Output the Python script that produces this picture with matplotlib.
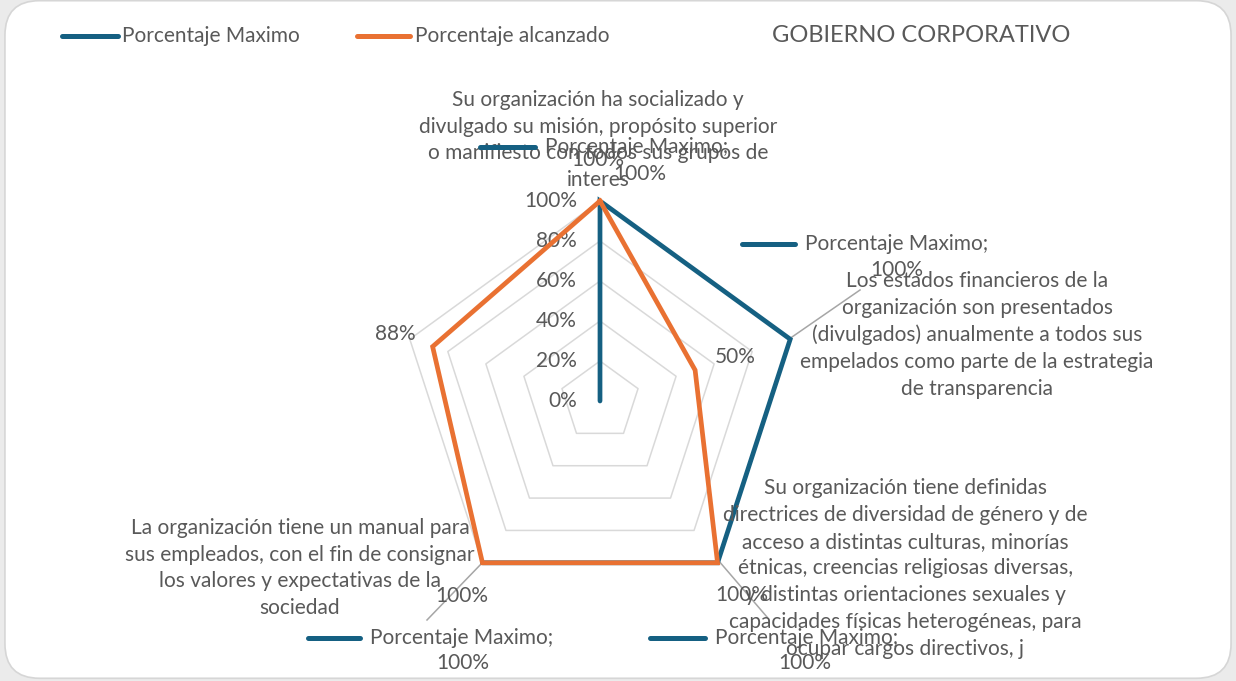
import matplotlib.pyplot as plt
import numpy as np
from matplotlib.patches import FancyBboxPatch

plt.rcParams['font.family'] = ['Lato', 'DejaVu Sans']

categories = [
    "Su organización ha socializado y\ndivulgado su misión, propósito superior\no manifiesto con todos sus grupos de\ninteres",
    "Los estados financieros de la\norganización son presentados\n(divulgados) anualmente a todos sus\nempelados como parte de la estrategia\nde transparencia",
    "Su organización tiene definidas\ndirectrices de diversidad de género y de\nacceso a distintas culturas, minorías\nétnicas, creencias religiosas diversas,\ny distintas orientaciones sexuales y\ncapacidades físicas heterogéneas, para\nocupar cargos directivos, j",
    "La organización tiene un manual para\nsus empleados, con el fin de consignar\nlos valores y expectativas de la\nsociedad",
    "",
]
maximo = [100, 100, 100, 100, 0]
alcanzado = [100, 50, 100, 100, 88]
rings = [20, 40, 60, 80, 100]

BLUE = '#156082'
ORANGE = '#E97132'
TXT = '#595959'
GRID = '#d9d9d9'
FS = 15

n = len(maximo)
theta = np.arange(n) * 2 * np.pi / n


def xy(vals, idx):
    v = np.array(vals, dtype=float)[idx]
    t = theta[idx]
    return v * np.sin(t), v * np.cos(t)


fig = plt.figure(figsize=(12.36, 6.81), dpi=100)
fig.patch.set_facecolor('#ebebeb')
bg = FancyBboxPatch((0.004, 0.004), 0.992, 0.995, boxstyle='round,pad=0,rounding_size=0.028',
                    transform=fig.transFigure, facecolor='white', edgecolor='#d6d6d6',
                    linewidth=1.2, mutation_aspect=1236 / 681, zorder=-5)
fig.patches.append(bg)

ax = fig.add_axes([0, 0, 1, 1])
ax.set_xlim(-300, 318)
ax.set_ylim(-140, 200.5)
ax.axis('off')

closed = list(range(n)) + [0]
for r in rings:
    gx, gy = xy([r] * n, closed)
    ax.plot(gx, gy, color=GRID, lw=1.1, zorder=1)

for r in [0] + rings:
    ax.text(-11.5, r, f"{r}%", ha='right', va='center', color=TXT, fontsize=FS)

bx, by = xy(maximo, [4, 0, 1, 2, 3])
ax.plot(bx, by, color=BLUE, lw=3.4, solid_capstyle='round', solid_joinstyle='miter', zorder=3)
ox, oy = xy(alcanzado, closed)
ax.plot(ox, oy, color=ORANGE, lw=3.4, solid_joinstyle='miter', zorder=4)

# category labels
cat_pos = [(-1, 130.5), (188.5, 33), (152.75, -83.75), (-150, -83.5)]
for lab, (cx, cy) in zip(categories, cat_pos):
    ax.text(cx, cy, lab, ha='center', va='center', color=TXT, fontsize=FS,
            linespacing=1.42, zorder=5)

# leader lines
for (x0, y0), (x1, y1) in [((96, 32), (130, 55.5)), ((-58.5, -80.5), (-86.5, -109.5)),
                           ((59, -79.5), (83.5, -108))]:
    ax.plot([x0, x1], [y0, y1], color='#a6a6a6', lw=1.1, zorder=2)

# data labels for Porcentaje Maximo
blue_labels = [((-60, -32.5, 127), (-1, 120.5)), ((71, 97.5, 78.5), (148.5, 65.5)),
               ((25, 52.5, -118.5), (102.5, -131)), ((-146, -120, -118.5), (-68.5, -131))]
for i, ((k0, k1, ky), (px, py)) in enumerate(blue_labels):
    ax.plot([k0, k1], [ky, ky], color=BLUE, lw=3.6, solid_capstyle='round', zorder=6)
    ax.text(k1 + 5, ky, "Porcentaje Maximo;", ha='left', va='center', color=TXT, fontsize=FS, zorder=6)
    ax.text(px, py, f"{maximo[i]}%", ha='center', va='center', color=TXT, fontsize=FS, zorder=6)

# data labels for Porcentaje alcanzado
orange_pos = [(20, 113.5), (67.5, 22), (71, -97), (-69, -97.5), (-102.5, 33.5)]
for v, (px, py) in zip(alcanzado, orange_pos):
    ax.text(px, py, f"{v}%", ha='center', va='center', color=TXT, fontsize=FS, zorder=6)

# legend and title
ax.plot([-269, -241], [182.5, 182.5], color=BLUE, lw=3.6, solid_capstyle='round')
ax.text(-239, 182.5, "Porcentaje Maximo", ha='left', va='center', color=TXT, fontsize=FS)
ax.plot([-121.5, -95], [182.5, 182.5], color=ORANGE, lw=3.6, solid_capstyle='round')
ax.text(-92.5, 182.5, "Porcentaje alcanzado", ha='left', va='center', color=TXT, fontsize=FS)
ax.text(160.5, 182.5, "GOBIERNO CORPORATIVO", ha='center', va='center', color=TXT, fontsize=17)

fig.savefig('out.png', dpi=100, facecolor=fig.get_facecolor())
